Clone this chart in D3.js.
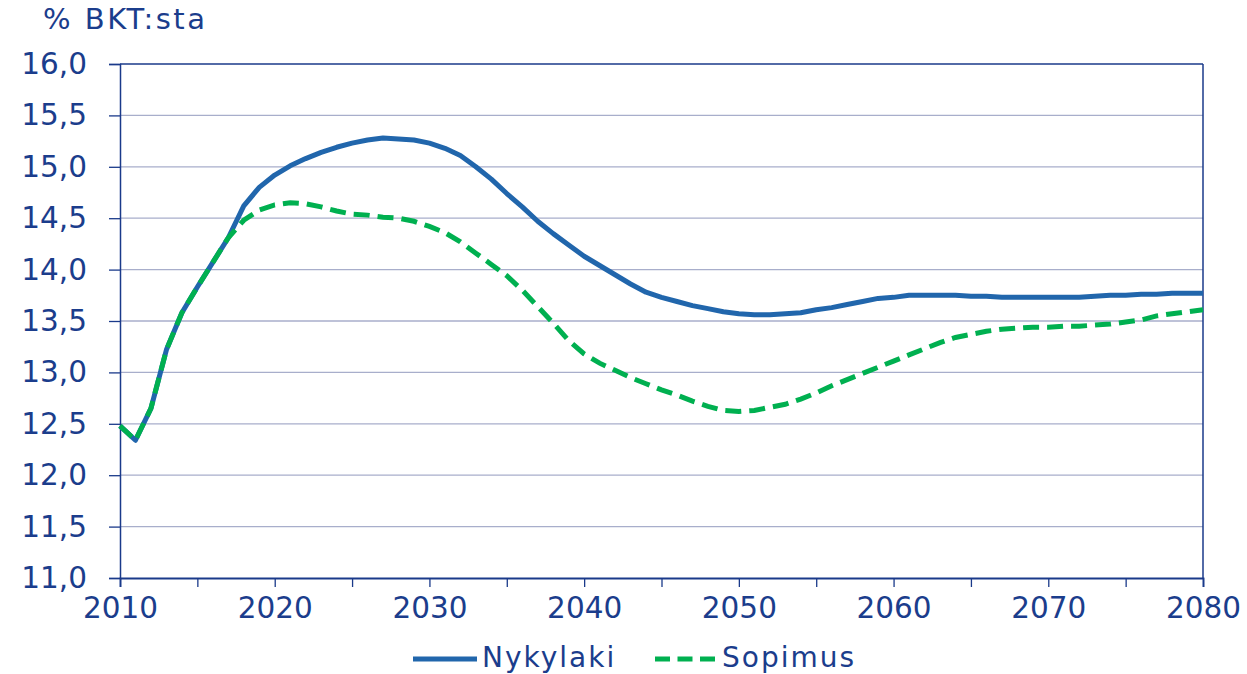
<!DOCTYPE html>
<html><head><meta charset="utf-8">
<script src="https://cdn.jsdelivr.net/npm/d3@7"></script>
<style>body{margin:0;background:#fff}svg{display:block}text{font-family:"DejaVu Sans",Verdana,sans-serif;fill:#1b3d8c}</style>
</head><body><svg id="c" width="1247" height="674"></svg>
<script>
const years = d3.range(2010, 2081);
const nykylaki = [12.48,12.34,12.65,13.22,13.58,13.83,14.07,14.31,14.62,14.80,
14.92,15.01,15.08,15.14,15.19,15.23,15.26,15.28,15.27,15.26,
15.23,15.18,15.11,15.00,14.88,14.74,14.61,14.47,14.35,14.24,
14.13,14.04,13.95,13.86,13.78,13.73,13.69,13.65,13.62,13.59,
13.57,13.56,13.56,13.57,13.58,13.61,13.63,13.66,13.69,13.72,
13.73,13.75,13.75,13.75,13.75,13.74,13.74,13.73,13.73,13.73,
13.73,13.73,13.73,13.74,13.75,13.75,13.76,13.76,13.77,13.77,13.77];
const sopimus = [12.48,12.34,12.65,13.22,13.58,13.83,14.07,14.31,14.48,14.58,
14.63,14.65,14.64,14.61,14.57,14.54,14.53,14.51,14.50,14.47,
14.42,14.36,14.27,14.16,14.05,13.94,13.80,13.64,13.48,13.31,
13.18,13.09,13.02,12.95,12.89,12.83,12.78,12.72,12.67,12.63,
12.62,12.63,12.66,12.69,12.74,12.80,12.87,12.93,12.99,13.05,
13.11,13.17,13.23,13.29,13.34,13.37,13.40,13.42,13.43,13.44,
13.44,13.45,13.45,13.46,13.47,13.49,13.51,13.55,13.57,13.59,13.61];
const yTicks = [11.0,11.5,12.0,12.5,13.0,13.5,14.0,14.5,15.0,15.5,16.0];
const xTicks = [2010,2020,2030,2040,2050,2060,2070,2080];
const xMinor = d3.range(2010, 2081, 5);
const seriesNames = ["Nykylaki","Sopimus"];
const unitLabel = "% BKT:sta";

const svg = d3.select("#c");
const L=120, R=1203, T=64, B=578;
const x = d3.scaleLinear().domain([2010,2080]).range([L,R]);
const y = d3.scaleLinear().domain([11,16]).range([B,T]);
const axisColor = "#1a3a8a", gridColor = "#a8aecb";
const fmt = d => d.toFixed(1).replace(".", ",");

svg.append("g").selectAll("line").data(yTicks.filter(v=>v>11)).join("line")
  .attr("x1",L).attr("x2",R).attr("y1",d=>y(d)).attr("y2",d=>y(d))
  .attr("stroke",d=>d===16?axisColor:gridColor).attr("stroke-width",d=>d===16?1.5:1.3);
svg.append("line").attr("x1",R).attr("x2",R).attr("y1",T).attr("y2",B).attr("stroke",axisColor).attr("stroke-width",1.5);

const ya = svg.append("g").attr("transform",`translate(${L},0)`)
  .call(d3.axisLeft(y).tickValues(yTicks).tickFormat(fmt).tickSize(11).tickPadding(22));
ya.select(".domain").attr("stroke",axisColor).attr("stroke-width",1.5);
ya.selectAll(".tick line").attr("stroke",axisColor).attr("stroke-width",1.3);
ya.selectAll("text").attr("font-size",29.5).attr("fill","#1b3d8c").attr("font-family","DejaVu Sans");

const xa = svg.append("g").attr("transform",`translate(0,${B})`)
  .call(d3.axisBottom(x).tickValues(xMinor).tickFormat(d=>xTicks.includes(d)?d:"").tickSize(9).tickPadding(10));
xa.select(".domain").attr("stroke",axisColor).attr("stroke-width",1.8);
xa.selectAll(".tick line").attr("stroke",axisColor).attr("stroke-width",1.3);
xa.selectAll("text").attr("font-size",29.5).attr("fill","#1b3d8c").attr("font-family","DejaVu Sans");

svg.append("text").attr("x",43).attr("y",29).attr("font-size",29).attr("letter-spacing",2.5).text(unitLabel);

const line = d3.line().x((d,i)=>x(years[i])).y(d=>y(d));
svg.append("path").datum(nykylaki).attr("d",line).attr("fill","none")
  .attr("stroke","#2166ac").attr("stroke-width",5).attr("stroke-linejoin","round");
svg.append("path").datum(sopimus).attr("d",line).attr("fill","none")
  .attr("stroke","#00b050").attr("stroke-width",5).attr("stroke-dasharray","16,8");

const lg = svg.append("g");
lg.append("line").attr("x1",413).attr("x2",477).attr("y1",659).attr("y2",659).attr("stroke","#2166ac").attr("stroke-width",5);
lg.append("text").attr("x",482).attr("y",667).attr("font-size",28).attr("letter-spacing",2).text(seriesNames[0]);
lg.append("line").attr("x1",655).attr("x2",715).attr("y1",659).attr("y2",659).attr("stroke","#00b050").attr("stroke-width",5).attr("stroke-dasharray","15,7.5");
lg.append("text").attr("x",722).attr("y",667).attr("font-size",28).attr("letter-spacing",2).text(seriesNames[1]);
</script></body></html>
